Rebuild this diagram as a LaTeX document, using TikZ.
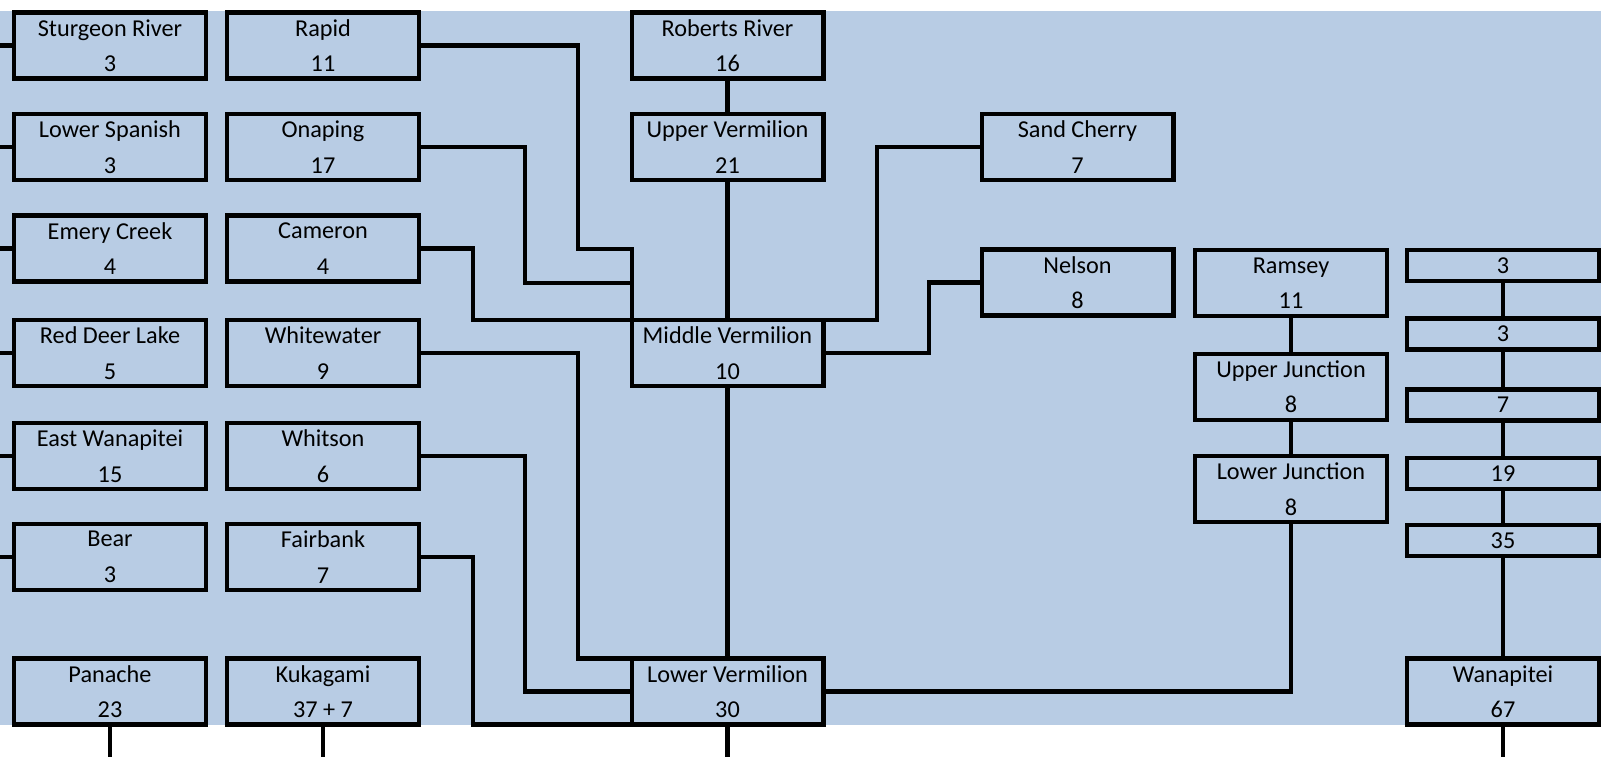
\documentclass[tikz,border=0pt]{standalone}
\usepackage{fontspec}
\setmainfont{Carlito}
\usepackage{tikz}
\definecolor{basin}{RGB}{184,204,228}

\begin{document}
\begin{tikzpicture}[x=0.02cm, y=-0.02cm,
  lake/.style={draw, line width=2.3pt, fill=basin, minimum width=3.84cm, minimum height=1.32cm,
    inner sep=1pt, outer sep=0pt, align=center, font=\fontsize{13.8}{20.2}\selectfont},
  gauge/.style={lake, minimum height=0.62cm},
  flow/.style={line width=2.3pt}]
  \useasboundingbox (0,0) rectangle (1605,757);
  \fill[basin] (0,11) rectangle (1600.7,725);
  \coordinate (leftedge) at (0,0);
  \coordinate (bottomedge) at (0,757);

  \node[lake] (sturgeon) at (110,45.5) {Sturgeon River\\3};
  \node[lake] (lspanish) at (110,147) {Lower Spanish\\3};
  \node[lake] (emery) at (110,248.5) {Emery Creek\\4};
  \node[lake] (reddeer) at (110,353) {Red Deer Lake\\5};
  \node[lake] (ewanap) at (110,456) {East Wanapitei\\15};
  \node[lake] (bear) at (110,557) {Bear\\3};
  \node[lake] (panache) at (110,691.5) {Panache\\23};

  \node[lake] (rapid) at (323,45.5) {Rapid\\11};
  \node[lake] (onaping) at (323,147) {Onaping\\17};
  \node[lake] (cameron) at (323,248.5) {Cameron\\4};
  \node[lake] (whitewater) at (323,353) {Whitewater\\9};
  \node[lake] (whitson) at (323,456) {Whitson\\6};
  \node[lake] (fairbank) at (323,557) {Fairbank\\7};
  \node[lake] (kukagami) at (323,691.5) {Kukagami\\37 + 7};

  \node[lake] (roberts) at (727.5,45.5) {Roberts River\\16};
  \node[lake] (upverm) at (727.5,147) {Upper Vermilion\\21};
  \node[lake] (midverm) at (727.5,353) {Middle Vermilion\\10};
  \node[lake] (lowverm) at (727.5,691.5) {Lower Vermilion\\30};

  \node[lake] (sandcherry) at (1077.5,147) {Sand Cherry\\7};
  \node[lake] (nelson) at (1077.5,282.5) {Nelson\\8};

  \node[lake] (ramsey) at (1291,283) {Ramsey\\11};
  \node[lake] (upjunc) at (1291,386.7) {Upper Junction\\8};
  \node[lake] (lowjunc) at (1291,489) {Lower Junction\\8};

  \node[gauge] (wa) at (1503,265.5) {3};
  \node[gauge] (wb) at (1503,334) {3};
  \node[gauge] (wc) at (1503,405) {7};
  \node[gauge] (wd) at (1503,473.4) {19};
  \node[gauge] (we) at (1503,540.4) {35};
  \node[lake] (wanapitei) at (1503,691.5) {Wanapitei\\67};

  \foreach \n in {sturgeon,lspanish,emery,reddeer,ewanap,bear}
    \draw[flow] (\n.west) -- (\n.west -| leftedge);
  \foreach \n in {panache,kukagami,lowverm,wanapitei}
    \draw[flow] (\n.south) -- (\n.south |- bottomedge);

  \path[flow]
  (roberts) edge (upverm)
  (upverm) edge (midverm)
  (midverm) edge (lowverm)
  (ramsey) edge (upjunc)
  (upjunc) edge (lowjunc)
  (wa) edge (wb)
  (wb) edge (wc)
  (wc) edge (wd)
  (wd) edge (we)
  (we) edge (wanapitei)
  ;

  \draw[flow] (rapid.east) -| (578,249) -| (midverm.north west);
  \draw[flow] (onaping.east) -| (525,283) -- (midverm.west |- 525,283);
  \draw[flow] (cameron.east) -| (473,0 |- midverm.north) -- (midverm.north west);
  \draw[flow] (sandcherry.west) -| (877,0 |- midverm.north) -- (midverm.north east);
  \draw[flow] (nelson.west) -| (929,0 |- midverm.east) -- (midverm.east);
  \draw[flow] (whitewater.east) -| (578,0 |- lowverm.north) -- (lowverm.north west);
  \draw[flow] (whitson.east) -| (525,0 |- lowverm.west) -- (lowverm.west);
  \draw[flow] (fairbank.east) -| (473,0 |- lowverm.south) -- (lowverm.south west);
  \draw[flow] (lowjunc.south) |- (lowverm.east);
\end{tikzpicture}
\end{document}
